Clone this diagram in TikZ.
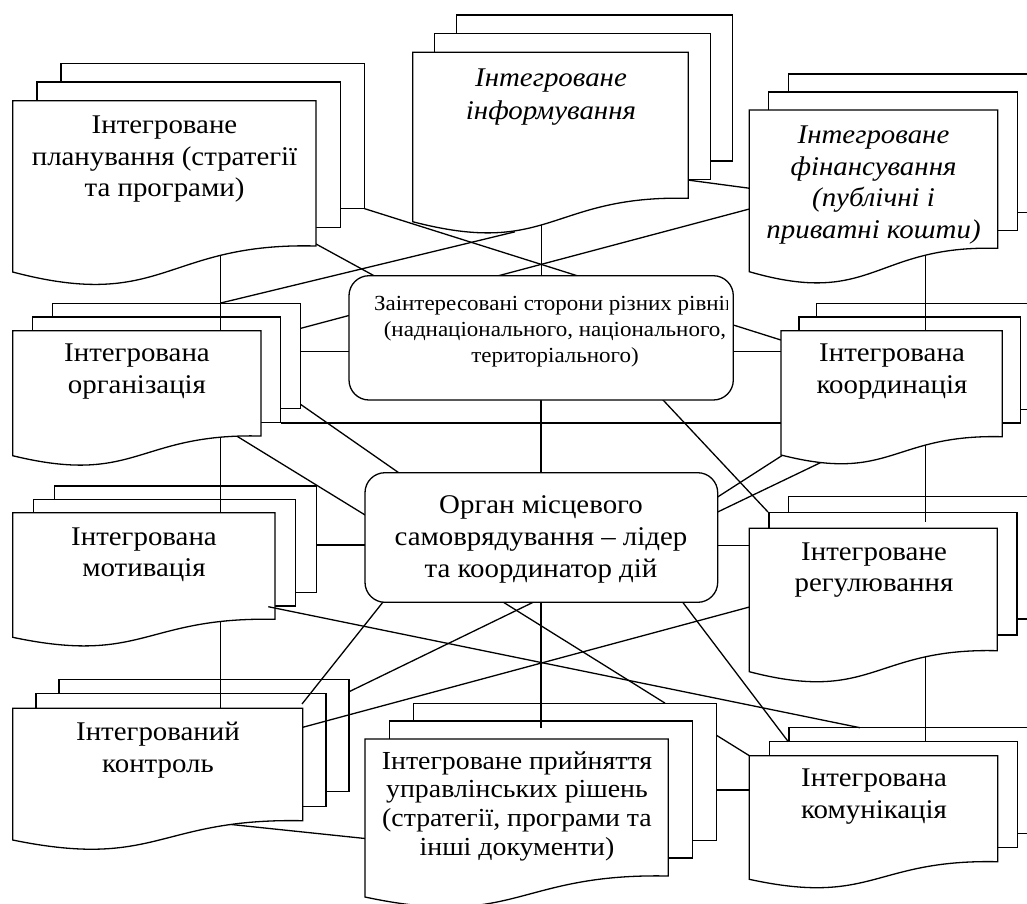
\documentclass[tikz,border=0pt]{standalone}
\usepackage{fontspec}
\setmainfont[FakeStretch=1.07]{Liberation Serif}
\tikzset{
  sheet/.style={draw, fill=white, line width=1.3pt, line join=miter},
  conn/.style={draw, line width=1.3pt},
  lbl/.style={align=center, inner sep=0pt, anchor=north, font=\fontsize{27}{31.7}\selectfont},
  lblit/.style={lbl, font=\fontsize{27}{31.5}\selectfont\itshape},
  lblsm/.style={lbl, font=\fontsize{26}{28.9}\selectfont},
  lblst/.style={lbl, font=\fontsize{21.5}{25.8}\selectfont},
  rbox/.style={draw, fill=white, line width=1.3pt, rounded corners=20pt},
}
% back sheets: x y w h ox oy
\newcommand\docback[6]{%
  \path[sheet] ({#1+2*#5},{#2-2*#6}) rectangle ++(#3,#4);
  \path[sheet] ({#1+#5},{#2-#6}) rectangle ++(#3,#4);
}
% front sheet: name x y w h d
\newcommand\docfront[6]{%
  \path[sheet] (#2,#3) coordinate (#1) -- ++(#4,0) -- ++(0,#5)
    .. controls ({#2+0.5*#4},{#3+#5-0.15*#6}) and ({#2+0.5*#4},{#3+#5+2.54*#6}) .. (#2,{#3+#5+#6}) -- cycle;
}
\begin{document}
\begin{tikzpicture}[x=1pt,y=-1pt]
\clip (0,0) rectangle (1027,903);
% ---------- back and middle sheets ----------
\docback{12.7}{100.7}{303.3}{145.3}{24.2}{18.7}
\docback{412.7}{52.3}{275.6}{146}{22}{18.7}
\docback{749.3}{110}{248.4}{138.3}{19.5}{18}
\docback{12.7}{330.7}{248.3}{105.3}{19.8}{13.7}
\docback{781}{330.7}{221.3}{106}{17.9}{13.7}
\docback{12.7}{512.7}{262.3}{106.6}{20.8}{13.4}
\docback{749.3}{528.3}{248}{122.4}{19.7}{15.8}
\docback{12.7}{708.3}{290}{112.4}{23.2}{14.5}
\docback{365}{739}{303.3}{137}{24.2}{17.9}
\docback{749.3}{755.7}{248.4}{106}{19.9}{14}
% ---------- connector end points ----------
\coordinate (v1a) at (220.7,250);   \coordinate (v1b) at (220.7,335);
\coordinate (v1c) at (220.7,430);   \coordinate (v1d) at (220.7,520);
\coordinate (v1e) at (220.7,615);   \coordinate (v1f) at (220.7,715);
\coordinate (v2a) at (925.3,250);   \coordinate (v2b) at (925.3,335);
\coordinate (v2c) at (925.3,440);   \coordinate (v2d) at (925.3,522);
\coordinate (v2e) at (925.3,655);   \coordinate (v2f) at (925.3,741.7);
\coordinate (v3a) at (541.5,220);   \coordinate (v3b) at (541.5,282);
\coordinate (v3c) at (541,395);     \coordinate (v3d) at (541,478);
\coordinate (v3e) at (541,598);     \coordinate (v3f) at (541,728);
\coordinate (h1a) at (300.8,351.7); \coordinate (h1b) at (355,351.7);
\coordinate (h2a) at (728,351.7);   \coordinate (h2b) at (786,351.7);
\coordinate (h3a) at (280.8,423);   \coordinate (h3b) at (786,423);
\coordinate (h4a) at (316.6,545);   \coordinate (h4b) at (370,545);
\coordinate (h5a) at (712,545.5);   \coordinate (h5b) at (755,545.5);
\coordinate (h6a) at (716.7,790);   \coordinate (h6b) at (755,790);
\coordinate (d1a) at (364.4,208.6); \coordinate (d1b) at (785,341.3);
\coordinate (d2a) at (300.8,328.3); \coordinate (d2b) at (755,207.5);
\coordinate (d3a) at (503,602);     \coordinate (d3b) at (665,703.1);
\coordinate (d3c) at (716.7,735.4); \coordinate (d3d) at (755,759.2);
\coordinate (d4a) at (220.7,303);   \coordinate (d4b) at (515,231.8);
\coordinate (d5a) at (310,240.7);   \coordinate (d5b) at (376,276.8);
\coordinate (d6a) at (680,179);     \coordinate (d6b) at (755,189);
\coordinate (d7a) at (300.8,404.5); \coordinate (d7b) at (402,475);
\coordinate (d8a) at (235,435);     \coordinate (d8b) at (370,518);
\coordinate (d9a) at (659.3,396);   \coordinate (d9b) at (768,512);
\coordinate (d10a) at (712,500.6);  \coordinate (d10b) at (786,453);
\coordinate (d11a) at (712,514.7);  \coordinate (d11b) at (826,460);
\coordinate (d12a) at (387,597);    \coordinate (d12b) at (302,704);
\coordinate (d13a) at (537,600.4);  \coordinate (d13b) at (349.1,691.7);
\coordinate (d14a) at (681,600);    \coordinate (d14b) at (788.3,741.7);
\coordinate (d15a) at (296,729.1);  \coordinate (d15b) at (755,605.5);
\coordinate (d16a) at (215,822.8);  \coordinate (d16b) at (370,839);
\coordinate (d17a) at (268.3,606.7); \coordinate (d17b) at (860,727.7);
% ---------- connectors (behind the front sheets) ----------
\foreach \a/\b in {v1a/v1b,v1c/v1d,v1e/v1f,v2a/v2b,v2c/v2d,v2e/v2f,v3a/v3b,v3c/v3d,v3e/v3f,
  h1a/h1b,h2a/h2b,h3a/h3b,h4a/h4b,h5a/h5b,h6a/h6b,
  d1a/d1b,d2a/d2b,d3a/d3b,d3c/d3d,d4a/d4b,d5a/d5b,d6a/d6b,d7a/d7b,d8a/d8b,d9a/d9b,
  d10a/d10b,d11a/d11b,d12a/d12b,d13a/d13b,d14a/d14b,d15a/d15b,d16a/d16b}
  \draw[conn] (\a) -- (\b);
% ---------- front sheets ----------
\docfront{s1}{12.7}{100.7}{303.3}{145.3}{26}
\docfront{s2}{412.7}{52.3}{275.6}{146}{23.4}
\docfront{s3}{749.3}{110}{248.4}{138.3}{23.4}
\docfront{s4}{12.7}{330.7}{248.3}{105.3}{19.7}
\docfront{s5}{781}{330.7}{221.3}{106}{18.3}
\docfront{s6}{12.7}{512.7}{262.3}{106.6}{18}
\docfront{s7}{749.3}{528.3}{248}{122.4}{21}
\docfront{s8}{12.7}{708.3}{290}{112.4}{19.3}
\docfront{s9}{365}{739}{303.3}{137}{21}
\docfront{s10}{749.3}{755.7}{248.4}{106}{17.6}
% ---------- central boxes ----------
\path[rbox] (349,275.7) rectangle (733.3,400);
\path[rbox] (365,472.7) rectangle (717.7,602.3);
\draw[conn] (d17a) -- (d17b);
% ---------- texts ----------
\node[lbl] (t1) at (164.5,115.7) {Інтегроване\\планування (стратегії\\та програми)};
\node[lblit, font=\fontsize{27}{33}\selectfont\itshape] (t2) at (551,69) {Інтегроване\\інформування};
\node[lblit] (t3) at (873.5,125.7) {Інтегроване\\фінансування\\(публічні і\\приватні кошти)};
\node[lbl] (t4) at (137,344) {Інтегрована\\організація};
\node[lbl] (t5) at (892,344) {Інтегрована\\координація};
\node[lbl] (t6) at (144,527.3) {Інтегрована\\мотивація};
\node[lbl] (t7) at (874,542.3) {Інтегроване\\регулювання};
\node[lbl] (t8) at (158,722.3) {Інтегрований\\контроль};
\node[lblsm] (t9) at (517,751) {Інтегроване прийняття\\управлінських рішень\\(стратегії, програми та\\інші документи)};
\node[lbl] (t10) at (874,769) {Інтегрована\\комунікація};
\begin{scope}
  \clip (350,277) rectangle (727,399);
  \node[lblst] (tst) at (555,296.2) {Заінтересовані сторони різних рівнів\\(наднаціонального, національного,\\територіального)};
\end{scope}
\node[lbl] (tor) at (541,495.7) {Орган місцевого\\самоврядування – лідер\\та координатор дій};
\end{tikzpicture}
\end{document}
